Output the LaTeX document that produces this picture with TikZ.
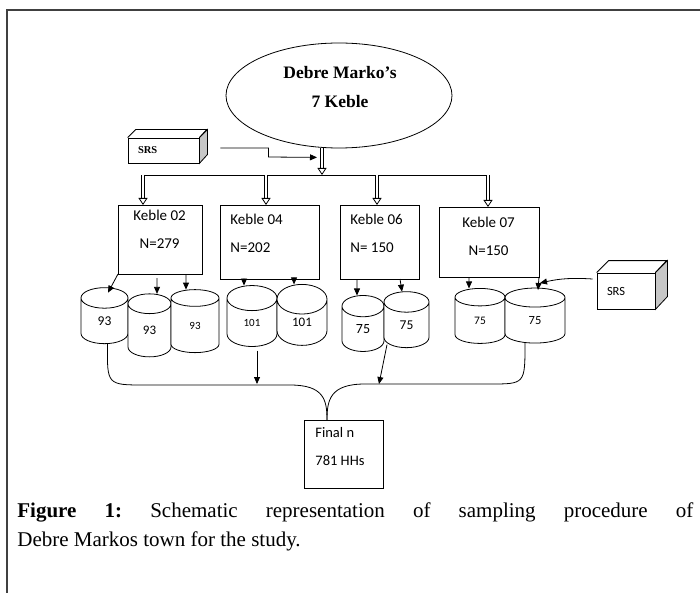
\documentclass[tikz,border=0pt]{standalone}
\usepackage{fontspec}
\setmainfont{Liberation Serif}
\newfontfamily\calibfont{Carlito}
\usetikzlibrary{positioning,shapes.geometric,arrows.meta}

\begin{document}
\begin{tikzpicture}[x=1pt, y=-1pt, node distance = 0pt, line width=0.8pt,
BoxStyle/.style={draw, inner sep=0pt, outer sep=0pt},
TxtStyle/.style={inner sep=0pt, font=\calibfont\fontsize{15}{18}\selectfont},
CylStyle/.style={draw, fill=white, cylinder, shape border rotate=90, aspect=1.5,
                inner sep=0pt, outer sep=0pt},
HollowArrow/.style={double, double distance=2.4pt,
                -{Triangle[open, length=7pt, width=9pt]}},
PtArrow/.style={-{Triangle[length=7pt, width=6pt]}},]
\useasboundingbox (0,0) rectangle (700,593);
\draw[line width=1.6pt, black!75] (7,593) -- (7,10) -- (700,10);
% town and SRS
\node [draw, ellipse, minimum width=226pt, minimum height=105pt, inner sep=0pt] (dm) at (339,95.5) {};
\node [inner sep=0pt, align=center, font=\bfseries\fontsize{17.5}{21}\selectfont] (dmtxt) at (340,87) {Debre Marko’s\\[8pt]7 Keble};
\node [draw, inner xsep=10pt, inner ysep=0pt, text width=51pt, minimum height=25pt, align=left,
       font=\bfseries\fontsize{10.5}{12}\selectfont] (srsL) at (163.5,150.5) {SRS};
\draw (srsL.north west) -- ++(8,-8) -- ++(71,0) -- (srsL.north east);
\draw[fill=black!22] (srsL.north east) -- ++(8,-8) -- ++(0,25) -- (srsL.south east) -- cycle;
% the four keble
\node [BoxStyle, minimum width=84pt, minimum height=69pt] (k02) at (160,239.5) {};
\node [TxtStyle, align=center, below right=5pt and 15pt of k02.north west] (k02t) {Keble 02\\[10pt]N=279};
\node [BoxStyle, minimum width=99pt, minimum height=74pt] (k04) at (269.5,242) {};
\node [TxtStyle, align=left, below right=9pt and 10pt of k04.north west] (k04t) {Keble 04\\[10pt]N=202};
\node [BoxStyle, minimum width=79pt, minimum height=74pt] (k06) at (379.5,242) {};
\node [TxtStyle, align=left, below right=9pt and 10pt of k06.north west] (k06t) {Keble 06\\[10pt]N= 150};
\node [BoxStyle, minimum width=100pt, minimum height=70pt] (k07) at (489,242) {};
\node [TxtStyle, align=center, below right=10pt and 23pt of k07.north west] (k07t) {Keble 07\\[10pt]N=150};
\coordinate (dmfoot) at ([xshift=-17pt]dm.south);
\coordinate (b1) at (143,175);
\coordinate (b2) at (266,175);
\coordinate (b3) at (377,175);
\coordinate (b4) at (488,175);
\draw[HollowArrow] (dmfoot) -- (dmfoot |- b1);
\draw (b1) -- (b4);
\draw[HollowArrow] (b1) -- (b1 |- k02.north);
\draw[HollowArrow] (b2) -- (b2 |- k04.north);
\draw[HollowArrow] (b3) -- (b3 |- k06.north);
\draw[HollowArrow] (b4) -- (b4 |- k07.north);
\draw[PtArrow] ([xshift=21pt,yshift=2.5pt]srsL.east) -- ++(48,0) -- ++(0,9)
      -- ([xshift=-5pt,yshift=-9pt]dmfoot);
% samples
\node [CylStyle, minimum width=47pt, minimum height=56pt, font=\calibfont\fontsize{13.5}{16}\selectfont] (c93a) at (104.5,321) {93};
\node [CylStyle, minimum width=43pt, minimum height=63pt, font=\calibfont\fontsize{13}{16}\selectfont] (c93b) at (149.5,330.5) {93};
\node [CylStyle, minimum width=48pt, minimum height=63pt, font=\calibfont\fontsize{11}{13}\selectfont] (c93c) at (195,325.5) {93};
\node [CylStyle, minimum width=50pt, minimum height=61pt, font=\calibfont\fontsize{11}{13}\selectfont] (c101a) at (252,322.5) {101};
\node [CylStyle, minimum width=50pt, minimum height=61pt, font=\calibfont\fontsize{13}{16}\selectfont, right=of c101a] (c101b) {101};
\node [CylStyle, minimum width=42pt, minimum height=56pt, font=\calibfont\fontsize{14}{16}\selectfont] (c75a) at (363,329) {75};
\node [CylStyle, minimum width=45pt, minimum height=56pt, font=\calibfont\fontsize{13.5}{16}\selectfont] (c75b) at (406.5,325) {75};
\node [CylStyle, minimum width=50pt, minimum height=55pt, font=\calibfont\fontsize{11.5}{13}\selectfont] (c75c) at (480,320.5) {75};
\node [CylStyle, minimum width=60pt, minimum height=55pt, font=\calibfont\fontsize{12.5}{15}\selectfont, right=of c75c] (c75d) {75};
\draw[PtArrow] (k02.south west) -- ([xshift=3.5pt,yshift=-5pt]c93a.north);
\draw[PtArrow] ([xshift=-3pt,yshift=-4pt]k02.south) -- ([xshift=7.5pt]c93b.north);
\draw[PtArrow] ([xshift=26pt]k02.south) -- ([xshift=-9pt]c93c.north);
\draw[PtArrow] ([xshift=-25.5pt]k04.south) -- ([xshift=-8pt]c101a.north);
\draw[PtArrow] ([xshift=24.5pt]k04.south) -- ([xshift=-8pt]c101b.north);
\draw[PtArrow] ([xshift=-22.5pt]k06.south) -- ([xshift=-6pt]c75a.north);
\draw[PtArrow] ([xshift=20.5pt]k06.south) -- ([xshift=-4.5pt]c75b.north);
\draw[PtArrow] ([xshift=-20pt]k07.south) -- ([xshift=-11pt]c75c.north);
\draw[PtArrow] (k07.south east) -- ([xshift=3pt,yshift=-2pt]c75d.north);
% second SRS
\node [draw, inner xsep=10pt, inner ysep=0pt, text width=38pt, minimum height=36pt, align=left,
       font=\calibfont\fontsize{12.5}{15}\selectfont] (srsR) at (626,291) {SRS};
\draw (srsR.north west) -- ++(12,-12) -- ++(58,0) -- (srsR.north east);
\draw[fill=black!22] (srsR.north east) -- ++(12,-12) -- ++(0,36) -- (srsR.south east) -- cycle;
\draw[PtArrow] ([xshift=-4pt,yshift=12pt]srsR.west) to[bend right=8] ([xshift=1pt,yshift=-6pt]k07.south east);
% final sample
\node [BoxStyle, minimum width=79pt, minimum height=68pt] (fk) at (343.5,454) {};
\node [TxtStyle, align=left, font=\calibfont\fontsize{14.5}{17.5}\selectfont,
       below right=7pt and 11pt of fk.north west] (fkt) {Final n\\[10.5pt]781 HHs};
\coordinate (fkin) at ([xshift=-16.5pt]fk.north);
\coordinate (jL) at (257,384);
\coordinate (jR) at (379,384);
\draw ([xshift=3pt]c93a.south) .. controls (107,385) .. (145,385) -- (290,385)
      .. controls (324,385) and (327,400) .. (fkin);
\draw ([xshift=-10pt]c75d.south) .. controls (525,384) .. (490,384) -- (365,384)
      .. controls (330,384) and (327,400) .. (fkin);
\draw[PtArrow] ([xshift=5pt,yshift=-4pt]c101a.south) -- (jL);
\draw[PtArrow] ([xshift=-19.5pt,yshift=3pt]c75b.south) -- (jR);
% caption
\node [anchor=north west, inner sep=0pt, text width=676pt, align=justify,
       font=\fontsize{21}{29}\selectfont] (cap) at (17,502)
      {\frenchspacing\textbf{Figure 1:} Schematic representation of sampling procedure of\linebreak Debre Markos town for the study.};
\end{tikzpicture}
\end{document}
